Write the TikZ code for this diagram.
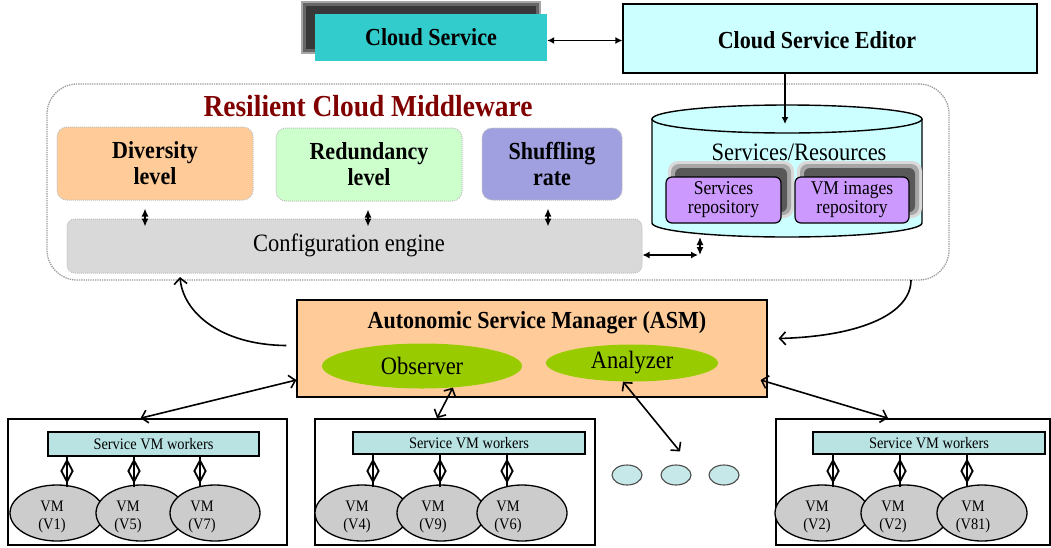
\documentclass[tikz,border=0pt]{standalone}
\usepackage{fontspec}
\setmainfont{Liberation Serif}
\newfontfamily\condf[FakeStretch=0.9]{Liberation Serif}
\usetikzlibrary{arrows.meta,shapes.geometric,calc}
\definecolor{cteal}{HTML}{33CCCC}
\definecolor{clight}{HTML}{CCFFFF}
\definecolor{cred}{HTML}{800000}
\definecolor{cpeach}{HTML}{FFCC99}
\definecolor{cmint}{HTML}{CCFFCC}
\definecolor{cviolet}{HTML}{A0A0E0}
\definecolor{cgray}{HTML}{D9D9D9}
\definecolor{cpurple}{HTML}{CC99FF}
\definecolor{cgreen}{HTML}{99CC00}
\definecolor{cvm}{HTML}{CCCCCC}
\definecolor{cworker}{HTML}{B9E3E3}
\definecolor{cdot}{HTML}{C6E8E8}
\begin{document}
\begin{tikzpicture}[x=1pt,y=-1pt,
  bigb/.style={font=\condf\fontsize{24.5}{26}\selectfont\bfseries, align=center},
  reg/.style={font=\condf\fontsize{25}{27}\selectfont, align=center},
  repo/.style={font=\condf\fontsize{19.5}{19}\selectfont, align=center},
  small/.style={font=\condf\fontsize{16}{18.5}\selectfont, align=center},
  lvl/.style={draw=black!25, densely dotted, line width=1pt, rounded corners=10pt, inner sep=0pt, bigb},
  bx/.style={draw, line width=1.2pt, inner sep=0pt},
  dlatex/.style={{Latex[length=7pt,width=7pt]}-{Latex[length=7pt,width=7pt]}, line width=1.4pt},
  latexarr/.style={-{Latex[length=7pt,width=7pt]}, line width=1.4pt},
  smallarr/.style={{Latex[length=8pt,width=7pt]}-{Latex[length=8pt,width=7pt]}, line width=1.4pt},
  barb/.style={-{Straight Barb[length=6pt,width=13pt]}, line width=1.6pt},
  dbarb/.style={{Straight Barb[length=6pt,width=13pt]}-{Straight Barb[length=6pt,width=13pt]}, line width=1.6pt},
  vm/.style={ellipse, draw, line width=1.3pt, fill=cvm, minimum height=56pt, inner sep=0pt},
  dmd/.style={diamond, draw, line width=1.8pt, fill=white, minimum width=12pt, minimum height=22pt, inner sep=0pt},
  dot/.style={ellipse, draw=black!70, line width=1.1pt, fill=cdot, minimum width=30pt, minimum height=20pt, inner sep=0pt}
]
\useasboundingbox (0,0) rectangle (1051,547);

% Cloud Service with shadow
\fill[black!35] (301,1) rectangle (541,54);
\fill[black!60] (303,3) rectangle (539,52);
\fill[black!78] (306,6) rectangle (536,49);
\node[fill=cteal, minimum width=232pt, minimum height=47pt, inner sep=0pt, bigb] (cs) at (431,37.5) {Cloud Service};
\node[bx, fill=clight, minimum width=414pt, minimum height=69pt] (ed) at (830,38.5) {};
\node[bigb] (edt) at (817,40) {Cloud Service Editor};
\draw[dlatex] ($(cs.east)+(0,3)$) -- ($(cs.east -| ed.west)+(0,3)$);

% Middleware
\node[draw=gray!80, densely dotted, line width=1.3pt, rounded corners=30pt, minimum width=902pt, minimum height=196pt, inner sep=0pt] (mw) at (498,182) {};
\node[font=\condf\fontsize{30.5}{32}\selectfont\bfseries, text=cred] (mwt) at (368,106) {Resilient Cloud Middleware};
\node[lvl, fill=cpeach, minimum width=196pt, minimum height=73pt] (div) at (155,163.5) {Diversity\\level};
\node[lvl, fill=cmint, minimum width=186pt, minimum height=73pt] (red) at (369,164.5) {Redundancy\\level};
\node[lvl, fill=cviolet, minimum width=140pt, minimum height=72pt] (shuf) at (552,164) {Shuffling\\rate};
\node[draw=black!25, densely dotted, line width=1pt, rounded corners=8pt, fill=cgray, minimum width=575pt, minimum height=54pt, inner sep=0pt] (cfg) at (354.5,246) {};
\node[reg] (cfgt) at (349,245) {Configuration engine};
\draw[smallarr] ($(div.south)+(-10,8)$) -- ($(div.south |- cfg.north)+(-10,8)$);
\draw[smallarr] ($(red.south)+(-1,8)$) -- ($(red.south |- cfg.north)+(-1,8)$);
\draw[smallarr] ($(shuf.south)+(-4,8)$) -- ($(shuf.south |- cfg.north)+(-4,8)$);

% Cylinder
\fill[clight] (652,119) -- (652,223) arc[start angle=180, end angle=360, x radius=135pt, y radius=14pt] -- (922,119) arc[start angle=0, end angle=180, x radius=135pt, y radius=14pt] -- cycle;
\draw[line width=1.4pt] (652,119) -- (652,223) arc[start angle=180, end angle=360, x radius=135pt, y radius=14pt] -- (922,119);
\draw[line width=1.4pt] (787,119) ellipse [x radius=135pt, y radius=14pt];
\node[reg] (cylt) at (799,152) {Services/Resources};
\coordinate (cyltop) at (785,124);
\coordinate (cylbot) at (700,237);
\coordinate (corner) at (700,255);
\draw[latexarr] (ed.south -| cyltop) -- (cyltop);
% repositories with soft shadows
\fill[black!15, rounded corners=10pt] (668,161) rectangle (794,218);
\fill[black!35, rounded corners=8pt] (671,164) rectangle (791,215);
\fill[black!65, rounded corners=6pt] (675,168) rectangle (787,212);
\fill[black!15, rounded corners=10pt] (797,161) rectangle (922,218);
\fill[black!35, rounded corners=8pt] (800,164) rectangle (919,215);
\fill[black!65, rounded corners=6pt] (804,168) rectangle (915,212);
\node[bx, fill=cpurple, rounded corners=6pt, minimum width=115pt, minimum height=46pt, repo] (rp1) at (723.5,200) {Services\\repository};
\node[bx, fill=cpurple, rounded corners=6pt, minimum width=114pt, minimum height=46pt, repo] (rp2) at (852,200) {VM images\\repository};
\draw[dlatex] (cfg.east |- corner) -- ($(corner)+(-2,0)$);
\draw[smallarr] (cylbot) -- (corner);

% ASM
\node[bx, fill=cpeach, minimum width=470pt, minimum height=97pt] (asm) at (532,348.5) {};
\node[bigb] (asmt) at (537,323) {Autonomic Service Manager (ASM)};
\node[ellipse, fill=cgreen, minimum width=200pt, minimum height=45pt, inner sep=0pt, reg] (obs) at (422,366) {Observer};
\node[ellipse, fill=cgreen, minimum width=172pt, minimum height=37pt, inner sep=0pt, reg] (ana) at (632,363) {Analyzer};
\coordinate (lc) at (180,277);
\coordinate (rc) at (911,280);
\draw[barb] ($(asm.west)+(-10,-3)$) .. controls (220,345) and (183,312) .. (lc);
\draw[barb] (rc) .. controls (911,312) and (865,336) .. ($(asm.east)+(11,-10)$);

% Worker boxes
\node[draw, line width=1.6pt, minimum width=279pt, minimum height=126pt, inner sep=0pt] (w1) at (147.5,482) {};
\node[draw, line width=1.6pt, minimum width=280pt, minimum height=126pt, inner sep=0pt] (w2) at (455,482) {};
\node[draw, line width=1.6pt, minimum width=274pt, minimum height=126pt, inner sep=0pt] (w3) at (913,482) {};
\node[bx, line width=1.4pt, fill=cworker, minimum width=211pt, minimum height=24pt, small] (s1) at (153.5,444) {Service VM workers};
\node[bx, line width=1.4pt, fill=cworker, minimum width=232pt, minimum height=22pt, small] (s2) at (469,443) {Service VM workers};
\node[bx, line width=1.4pt, fill=cworker, minimum width=232pt, minimum height=22pt, small] (s3) at (929,443) {Service VM workers};

% VM ellipses
\node[vm, minimum width=94pt] (v1) at (57,513) {};
\node[vm, minimum width=90pt] (v2) at (141,513) {};
\node[vm, minimum width=90pt] (v3) at (215,513) {};
\node[vm, minimum width=94pt] (v4) at (362,513) {};
\node[vm, minimum width=88pt] (v5) at (441,513) {};
\node[vm, minimum width=90pt] (v6) at (522,513) {};
\node[vm, minimum width=94pt] (v7) at (822,513) {};
\node[vm, minimum width=88pt] (v8) at (905,513) {};
\node[vm, minimum width=90pt] (v9) at (982,513) {};
\node[small] (t1) at (52,517) {VM\\(V1)};
\node[small] (t2) at (128,517) {VM\\(V5)};
\node[small] (t3) at (202,517) {VM\\(V7)};
\node[small] (t4) at (357,517) {VM\\(V4)};
\node[small] (t5) at (433,517) {VM\\(V9)};
\node[small] (t6) at (508,517) {VM\\(V6)};
\node[small] (t7) at (817,517) {VM\\(V2)};
\node[small] (t8) at (893,517) {VM\\(V2)};
\node[small] (t9) at (973,517) {VM\\(V81)};

% diamonds
\foreach \x [count=\i] in {67,134,200,373,440,507,833,900,967}{
  \node[dmd] (dm\i) at (\x,471) {};
  \draw[line width=1.6pt] (dm\i.north) -- ++(0,-4);
  \draw[line width=1.6pt] (dm\i.south) -- ++(0,4);
  \draw[line width=1.3pt] (dm\i.north) -- (dm\i.south);
}

% dots
\node[dot] (d1) at (627,475) {};
\node[dot] (d2) at (676,475) {};
\node[dot] (d3) at (724,475) {};

% ASM links
\draw[dbarb] ($(asm.west)+(0,31.5)$) -- ($(w1.north)+(-7,0)$);
\draw[dbarb] (obs.-35) -- ($(w2.north)+(-18,0)$);
\draw[dbarb] ($(ana.south)+(-9,0)$) -- ($(d2.north)+(4,-13)$);
\draw[dbarb] ($(asm.east)+(-7,31.5)$) -- ($(w3.north)+(-25,0)$);
\end{tikzpicture}
\end{document}
